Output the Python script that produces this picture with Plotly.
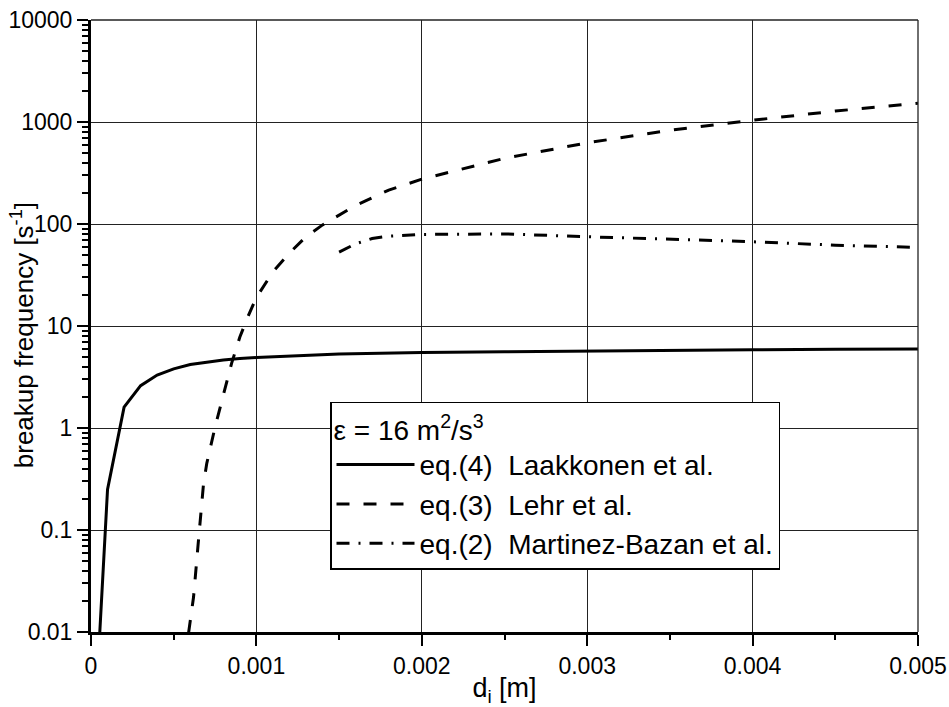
import plotly.graph_objects as go

# Laakkonen et al. eq.(4)
x_laak = [0.00005, 0.0001, 0.0002, 0.0003, 0.0004, 0.0005, 0.0006, 0.0007, 0.0008,
          0.0009, 0.001, 0.0015, 0.002, 0.0025, 0.003, 0.0035, 0.004, 0.0045, 0.005]
y_laak = [0.008, 0.25, 1.6, 2.6, 3.3, 3.8, 4.2, 4.45, 4.65,
          4.8, 4.9, 5.3, 5.5, 5.6, 5.7, 5.78, 5.85, 5.9, 5.95]

# Lehr et al. eq.(3)
x_lehr = [0.00059, 0.00062, 0.00065, 0.00068, 0.0007, 0.00075, 0.0008, 0.00085, 0.0009,
          0.00095, 0.001, 0.0011, 0.0012, 0.0013, 0.0014, 0.0015, 0.0016, 0.0018,
          0.002, 0.0025, 0.003, 0.0035, 0.004, 0.0045, 0.005]
y_lehr = [0.0098, 0.022, 0.08, 0.28, 0.45, 1.02, 2.1, 4.3, 7.8,
          12.5, 19, 34, 52, 75, 98, 122, 152, 215,
          275, 440, 625, 830, 1040, 1280, 1530]

# Martinez-Bazan et al. eq.(2)
x_mb = [0.0015, 0.0016, 0.0017, 0.0018, 0.002, 0.0025, 0.003, 0.0035, 0.004, 0.0045, 0.005]
y_mb = [53, 64, 72, 76, 79, 80, 75, 71, 67, 62, 59]

y_tickvals = [0.01, 0.1, 1, 10, 100, 1000, 10000]
y_ticktext = ["0.01", "0.1", "1", "10", "100", "1000", "10000"]
x_tickvals = [0, 0.001, 0.002, 0.003, 0.004, 0.005]
x_ticktext = ["0", "0.001", "0.002", "0.003", "0.004", "0.005"]

NB = "\u00a0"
FONT = "Liberation Sans, Arial, sans-serif"

fig = go.Figure()
fig.add_trace(go.Scatter(x=x_laak, y=y_laak, mode="lines",
                         name=f"eq.(4){NB}{NB}Laakkonen et al.",
                         line=dict(color="black", width=3)))
fig.add_trace(go.Scatter(x=x_lehr, y=y_lehr, mode="lines",
                         name=f"eq.(3){NB}{NB}Lehr et al.",
                         line=dict(color="black", width=3, dash="13px,14px")))
fig.add_trace(go.Scatter(x=x_mb, y=y_mb, mode="lines",
                         name=f"eq.(2){NB}{NB}Martinez-Bazan et al.",
                         line=dict(color="black", width=3, dash="13px,9px,2px,9px")))

fig.update_layout(
    width=949, height=707,
    margin=dict(l=91, r=31, t=20, b=75),
    paper_bgcolor="white", plot_bgcolor="white",
    font=dict(family=FONT, size=23, color="black"),
    legend=dict(
        x=0.289, y=0.376, xanchor="left", yanchor="top",
        bgcolor="white", bordercolor="black", borderwidth=1.5,
        title=dict(text="\u03b5 = 16 m<sup>2</sup>/s<sup>3</sup>", font=dict(size=28)),
        font=dict(size=28),
        itemwidth=78,
        tracegroupgap=0,
    ),
    xaxis=dict(
        range=[0, 0.005], automargin=False,
        tickvals=x_tickvals, ticktext=x_ticktext,
        showline=True, linecolor="black", linewidth=3,
        ticks="outside", ticklen=11, tickwidth=2, tickcolor="black",
        showgrid=True, gridcolor="#222", gridwidth=1.3,
        zeroline=False,
        minor=dict(dtick=0.0005, ticks="outside", ticklen=5, tickwidth=2,
                   tickcolor="black", showgrid=False),
        title=dict(text="d<sub>i</sub> [m]", font=dict(size=27), standoff=2),
        tickfont=dict(size=23),
    ),
    yaxis=dict(
        type="log", range=[-2, 4], automargin=False,
        tickvals=y_tickvals, ticktext=y_ticktext,
        showline=True, linecolor="black", linewidth=3,
        ticks="outside", ticklen=11, tickwidth=2, tickcolor="black",
        showgrid=True, gridcolor="#222", gridwidth=1.3,
        zeroline=False,
        minor=dict(dtick="D1", ticks="outside", ticklen=6, tickwidth=2,
                   tickcolor="black", showgrid=False),
        tickfont=dict(size=23),
    ),
    annotations=[dict(
        text="breakup frequency [s<sup>-1</sup>]", textangle=-90,
        xref="paper", yref="paper", x=-0.0834, y=0.485,
        xanchor="center", yanchor="middle", showarrow=False,
        font=dict(size=26),
    )],
)

# thin frame lines at top and right (as in the reference)
fig.add_shape(type="line", xref="paper", yref="paper", x0=0, x1=1, y0=1, y1=1,
              line=dict(color="#222", width=1.3))
fig.add_shape(type="line", xref="paper", yref="paper", x0=1, x1=1, y0=0, y1=1,
              line=dict(color="#222", width=1.3))

fig.write_html("out.html")
